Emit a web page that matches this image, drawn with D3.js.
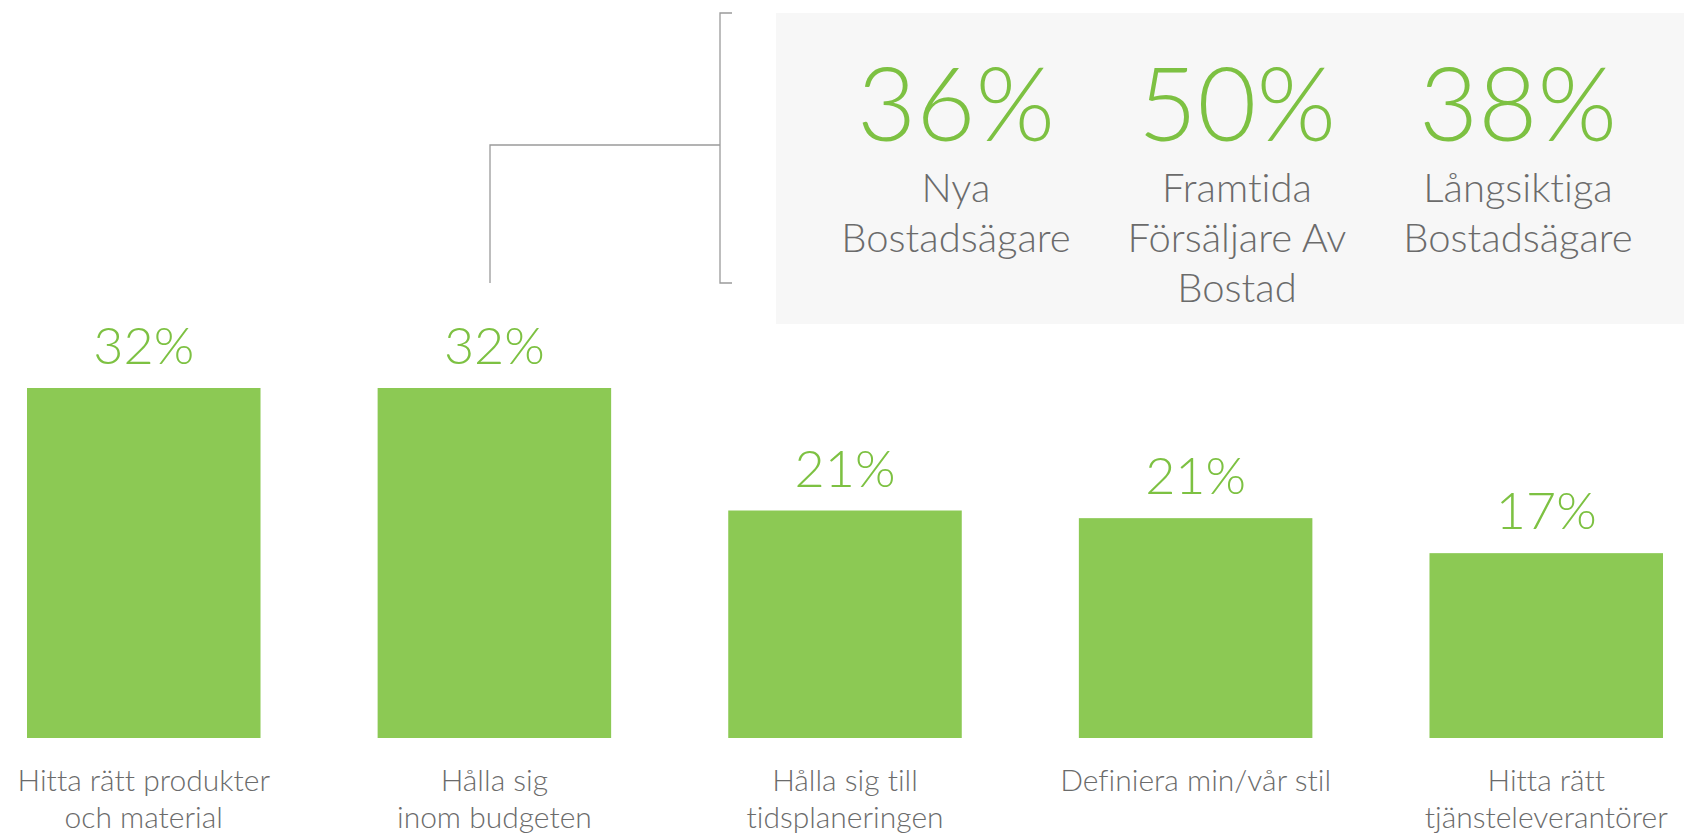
<!DOCTYPE html>
<html>
<head>
<meta charset="utf-8">
<script src="https://cdn.jsdelivr.net/npm/d3@7"></script>
<style>
  html, body { margin: 0; padding: 0; background: #fff; }
  svg { display: block; }
  text { font-variant-ligatures: none; }
</style>
</head>
<body>
<svg id="chart" width="1684" height="833"></svg>
<script>
// bar chart data
const categories = [
    ["Hitta rätt produkter", "och material"],
    ["Hålla sig", "inom budgeten"],
    ["Hålla sig till", "tidsplaneringen"],
    ["Definiera min/vår stil"],
    ["Hitta rätt", "tjänsteleverantörer"]
];
const values = [32, 32, 20.8, 20.1, 16.9];
const valueLabels = ["32%", "32%", "21%", "21%", "17%"];

// callout box data
const groupValues = [36, 50, 38];
const groupNames = [
    ["Nya", "Bostadsägare"],
    ["Framtida", "Försäljare Av", "Bostad"],
    ["Långsiktiga", "Bostadsägare"]
];

const green = "#7dc142",
    barGreen = "#8cc954",
    grey = "#6b6b6b";

const svg = d3.select("#chart");

// callout box
svg.append("rect")
    .attr("x", 776).attr("y", 13)
    .attr("width", 1684 - 776).attr("height", 311)
    .attr("fill", "#f7f7f7");

// bracket
const bracket = svg.append("g")
    .attr("fill", "none")
    .attr("stroke", "#9a9a9a")
    .attr("stroke-width", 1.3);
bracket.append("path").attr("d", "M732,13H720V283H732");
bracket.append("path").attr("d", "M720,145H490V283");

const gx = d3.scalePoint()
    .domain(d3.range(groupValues.length))
    .range([956, 1518]);

const groups = svg.selectAll(".grp")
    .data(groupValues)
    .enter().append("g")
    .attr("class", "grp")
    .attr("transform", (d, i) => "translate(" + gx(i) + ",0)");

groups.append("text")
    .attr("y", 141)
    .attr("text-anchor", "middle")
    .style("font-family", "Lato")
    .style("font-weight", 300)
    .style("font-size", "102px")
    .attr("fill", green)
    .text(d => d + "%");

groups.each(function (d, i) {
    d3.select(this).selectAll(".nm")
        .data(groupNames[i])
        .enter().append("text")
        .attr("class", "nm")
        .attr("y", (t, j) => 202 + j * 50)
        .attr("text-anchor", "middle")
        .style("font-family", "Lato")
        .style("font-weight", 300)
        .style("font-size", "40px")
        .attr("fill", grey)
        .text(t => t);
});

// bars
const x = d3.scaleBand()
    .domain(d3.range(values.length))
    .range([27, 1663])
    .paddingInner(0.334)
    .paddingOuter(0);

const y = d3.scaleLinear()
    .domain([0, 32])
    .range([738, 388]);

svg.selectAll(".bar")
    .data(values)
    .enter().append("rect")
    .attr("class", "bar")
    .attr("x", (d, i) => x(i))
    .attr("y", d => y(d))
    .attr("width", x.bandwidth())
    .attr("height", d => y(0) - y(d))
    .attr("fill", barGreen);

svg.selectAll(".val")
    .data(values)
    .enter().append("text")
    .attr("class", "val")
    .attr("x", (d, i) => x(i) + x.bandwidth() / 2)
    .attr("y", d => y(d) - 24)
    .attr("text-anchor", "middle")
    .style("font-family", "Lato")
    .style("font-weight", 300)
    .style("font-size", "52px")
    .attr("fill", green)
    .text((d, i) => valueLabels[i]);

const cats = svg.selectAll(".cat")
    .data(categories)
    .enter().append("g")
    .attr("class", "cat")
    .attr("transform", (d, i) => "translate(" + (x(i) + x.bandwidth() / 2) + ",0)");

cats.selectAll("text")
    .data(d => d)
    .enter().append("text")
    .attr("y", (t, j) => 791 + j * 37)
    .attr("text-anchor", "middle")
    .style("font-family", "Lato")
    .style("font-weight", 300)
    .style("font-size", "30px")
    .attr("fill", grey)
    .text(t => t);
</script>
</body>
</html>
